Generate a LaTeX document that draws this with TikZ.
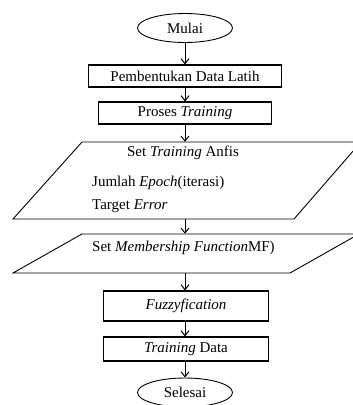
\documentclass[tikz,border=0pt]{standalone}
\usepackage{fontspec}
\setmainfont{Liberation Serif}
\usetikzlibrary{shapes.geometric,arrows.meta}
\begin{document}
\begin{tikzpicture}[x=1pt,y=-1pt,
  every node/.style={font=\fontsize{15}{18}\selectfont},
  procbox/.style={draw,line width=1.1pt,minimum height=22pt,inner sep=0pt},
  terminal/.style={draw,ellipse,line width=0.9pt,minimum width=95pt,minimum height=29pt,inner sep=0pt},
  ghost/.style={draw=none,inner sep=0pt},
  para/.style={line width=0.9pt},
  flow/.style={line width=1pt,-{Straight Barb[length=5pt,width=8pt,line width=1pt]}},
  txt/.style={inner sep=0pt,anchor=west}]
\useasboundingbox (0,0) rectangle (353,405);
\clip (0,0) rectangle (353,405);
\fill[white] (0,0) rectangle (353,405);

\node[terminal] (mulai) at (185,28) {Mulai};
\node[procbox,minimum width=193pt] (latih) at (185,76) {Pembentukan Data Latih};
\node[procbox,minimum width=173pt] (proses) at (185,113) {Proses \textit{Training}};

% parallelogram 1
\node[ghost,minimum width=200pt,minimum height=77pt] (p1) at (185,180.5) {};
\draw[para] (82,142) -- (361,142) -- (294,219) -- (13,219) -- cycle;
\node[inner sep=0pt] (p1a) at (183,153) {Set \textit{Training} Anfis};
\node[txt] (p1b) at (92,183) {Jumlah \textit{Epoch}(iterasi)};
\node[txt] (p1c) at (92,206) {Target \textit{Error}};

% parallelogram 2
\node[ghost,minimum width=200pt,minimum height=39pt] (p2) at (185,253.5) {};
\draw[para] (82,234) -- (359,234) -- (290,273) -- (13,273) -- cycle;
\node[txt] (p2a) at (92,248) {Set \textit{Membership Function}MF)};

\node[procbox,minimum width=165pt,minimum height=30pt] (fuzzy) at (186,306) {\textit{Fuzzyfication}};
\node[procbox,minimum width=165pt,minimum height=24pt] (tdata) at (186,349) {\textit{Training} Data};
\node[terminal] (selesai) at (185,392.5) {Selesai};

\draw[flow] (mulai) -- (latih);
\draw[flow] (latih) -- (proses);
\draw[flow] (proses) -- (p1);
\draw[flow] (p1) -- (p2);
\draw[flow] (p2.south) -- (p2.south |- fuzzy.north);
\draw[flow] (fuzzy.south -| p2.south) -- (p2.south |- tdata.north);
\draw[flow] (tdata.south -| selesai.north) -- (selesai);
\end{tikzpicture}
\end{document}
